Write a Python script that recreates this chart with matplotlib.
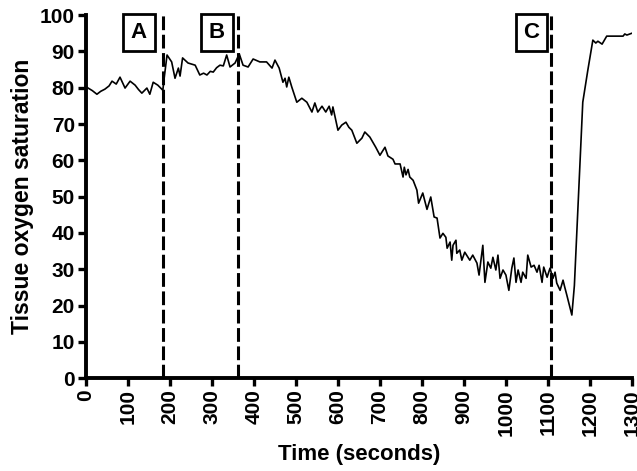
import matplotlib.pyplot as plt

# ===== data =====
time_s = [0, 5, 15, 26, 35, 45, 55, 62, 72, 81, 93, 105, 117, 125, 133, 145, 152, 160, 171, 183,
          186, 193, 204, 212, 220, 224, 230, 243, 260, 271, 280, 288, 296, 303, 311, 319, 327, 335,
          343, 355, 365, 374, 386, 398, 414, 430, 443, 450, 460, 469, 474, 478, 483, 490, 502, 514,
          526, 538, 545, 552, 562, 571, 579, 585, 588, 600, 609, 619, 626, 633, 645, 657, 664, 676,
          690, 700, 712, 719, 731, 736, 748, 755, 758, 762, 767, 771, 779, 788, 792, 802, 812, 821,
          829, 836, 843, 850, 857, 860, 867, 871, 874, 881, 883, 890, 895, 902, 914, 921, 931, 936,
          945, 950, 957, 964, 969, 976, 981, 986, 993, 1000, 1007, 1014, 1019, 1024, 1029, 1036,
          1040, 1048, 1052, 1060, 1067, 1074, 1079, 1086, 1090, 1098, 1105, 1112, 1117, 1121, 1129,
          1136, 1140, 1145, 1157, 1163, 1183, 1195, 1207, 1214, 1219, 1229, 1240, 1279, 1283, 1288,
          1300]
sto2 = [80.3, 79.9, 79.2, 78.2, 79.0, 79.6, 80.5, 81.8, 81.0, 82.9, 79.9, 81.8, 80.7, 79.5, 78.5,
        79.9, 78.2, 81.5, 80.7, 79.3,
        82.5, 89.0, 87.1, 82.6, 85.4, 83.2, 88.2, 86.8, 86.2, 83.5, 84.0, 83.5, 84.5, 84.3, 85.5,
        86.2, 86.0, 89.0, 85.7, 86.8, 89.3, 86.2, 85.7, 87.9, 87.1, 87.1, 85.4, 87.6, 85.4, 81.5,
        82.6, 80.2, 82.9, 80.2, 76.0, 77.1, 76.0, 73.3, 75.8, 73.3, 74.9, 73.3, 74.9, 72.5, 74.7,
        68.3, 69.7, 70.5, 69.1, 68.3, 64.7, 66.1, 67.8, 66.4, 63.6, 61.4, 63.6, 61.2, 60.3, 59.0,
        59.0, 55.4, 58.1, 56.0, 57.5, 55.4, 54.5, 51.8, 48.2, 51.0, 46.5, 49.9, 44.4, 44.1, 38.6,
        39.9, 38.8, 35.8, 37.5, 32.5, 36.6, 38.0, 34.4, 35.3, 32.5, 34.7, 32.5, 33.9, 31.7, 28.4,
        36.6, 26.4, 32.0, 30.3, 33.3, 29.8, 33.9, 27.5, 29.8, 28.4, 24.2, 30.3, 33.1, 26.4, 29.8,
        26.4, 29.2, 27.5, 33.9, 30.6, 31.1, 29.2, 31.1, 26.4, 30.6, 27.8, 30.3, 27.5, 29.2, 26.2,
        24.2, 27.0, 25.1, 22.9, 17.4, 25.5, 76.0, 84.8, 93.1, 92.3, 92.8, 92.0, 94.2, 94.2, 94.8,
        94.5, 95.0]

event_times = [183, 362, 1107]
event_labels = ['A', 'B', 'C']
label_times = [126, 312, 1060]

plt.rcParams['font.family'] = ['Liberation Sans', 'DejaVu Sans']
plt.rcParams['font.weight'] = 'bold'

fig = plt.figure(figsize=(6.37, 4.71), dpi=100)
ax = fig.add_axes([0.135, 0.197, 0.857, 0.771])

ax.plot(time_s, sto2, color='black', lw=1.2)

# 事件标记: 竖虚线
for t in event_times:
    ax.axvline(t, color='black', lw=2.2, ls=(0, (4.5, 1.5)))

for t, lab in zip(label_times, event_labels):
    ax.text(t, 95.2, lab, ha='center', va='center', fontsize=16, fontweight='bold',
            bbox=dict(boxstyle='square,pad=0.34', fc='white', ec='black', lw=2))

ax.set_xlim(0, 1300)
ax.set_ylim(0, 100)
ax.set_xticks(range(0, 1301, 100))
ax.set_yticks(range(0, 101, 10))
ax.tick_params(axis='x', labelrotation=90)
ax.tick_params(direction='out', length=6, width=2.4, labelsize=15, pad=2)
for lab in ax.get_xticklabels() + ax.get_yticklabels():
    lab.set_fontweight('bold')

for side in ['top', 'right']:
    ax.spines[side].set_visible(False)
for side in ['left', 'bottom']:
    ax.spines[side].set_linewidth(2.8)

ax.set_xlabel('Time (seconds)', fontsize=16, fontweight='bold', labelpad=6)
ax.set_ylabel('Tissue oxygen saturation', fontsize=16.5, fontweight='bold', labelpad=4)

plt.savefig('out.png', dpi=100)
